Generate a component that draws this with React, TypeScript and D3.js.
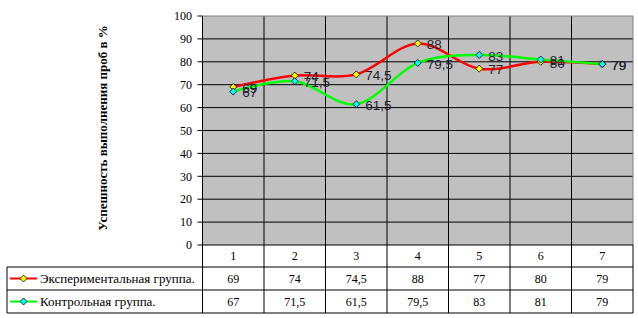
import React from "react";
import * as d3 from "d3";

const categories = ["1", "2", "3", "4", "5", "6", "7"];
const expValues = [69, 74, 74.5, 88, 77, 80, 79];
const ctrlValues = [67, 71.5, 61.5, 79.5, 83, 81, 79];
const yTicks = [0, 10, 20, 30, 40, 50, 60, 70, 80, 90, 100];
const seriesNames = ["Экспериментальная группа.", "Контрольная группа."];
const yTitle = "Успешность выполнения проб в %";

const W = 638;
const H = 318;
const left = 202.5;
const right = 633;
const top = 16;
const bottom = 245;
const row1 = 267;
const row2 = 290;
const row3 = 313;
const tableLeft = 7;

const fmt = (v: number) => String(v).replace(".", ",");

const serifStyle = { fontFamily: '"Liberation Serif", "Times New Roman", Tinos, "DejaVu Serif", serif' };
const sansStyle = { fontFamily: '"Liberation Sans", Arial, Arimo, sans-serif' };

export default function App() {
  const x = d3.scaleBand<string>().domain(categories).range([left, right]).padding(0);
  const y = d3.scaleLinear().domain([0, 100]).range([bottom, top]);
  const cx = (c: string) => (x(c) as number) + x.bandwidth() / 2;
  const line = d3
    .line<number>()
    .x((_, i) => cx(categories[i]))
    .y((d) => y(d))
    .curve(d3.curveCardinal.tension(0));

  const series = [
    { name: seriesNames[0], values: expValues, stroke: "#FF0000", fill: "#FFFF00" },
    { name: seriesNames[1], values: ctrlValues, stroke: "#00FF00", fill: "#00FFFF" },
  ];

  const diamond = (px: number, py: number, fill: string, key: string) => (
    <path
      key={key}
      d={`M${px},${py - 3.5}L${px + 3.5},${py}L${px},${py + 3.5}L${px - 3.5},${py}Z`}
      fill={fill}
      stroke="#000"
      strokeWidth={0.8}
    />
  );

  return (
    <svg width={W} height={H} style={{ position: "fixed", left: 0, top: 0, background: "#fff" }}>
      <rect x={left} y={top} width={right - left} height={bottom - top} fill="#C0C0C0" />
      {yTicks.map((t) =>
        t > 0 && t < 100 ? (
          <line key={"g" + t} x1={left} x2={right} y1={y(t)} y2={y(t)} stroke="#000" strokeWidth={1} />
        ) : null
      )}
      {categories.slice(1).map((c) => (
        <line
          key={"v" + c}
          x1={x(c) as number}
          x2={x(c) as number}
          y1={top}
          y2={row3}
          stroke="#000"
          strokeWidth={1}
        />
      ))}
      <line x1={left} x2={right} y1={top} y2={top} stroke="#808080" strokeWidth={1} />
      <line x1={right} x2={right} y1={top} y2={bottom} stroke="#808080" strokeWidth={1} />
      <line x1={right} x2={right} y1={bottom} y2={row3} stroke="#000" strokeWidth={1} />
      <line x1={left} x2={left} y1={top} y2={row3} stroke="#000" strokeWidth={1} />
      {yTicks.map((t) => (
        <g key={"t" + t}>
          <line x1={left - 5} x2={left} y1={y(t)} y2={y(t)} stroke="#000" />
          <text x={192} y={y(t)} dy="0.35em" textAnchor="end" fontSize={12} fill="#000" style={serifStyle}>
            {t}
          </text>
        </g>
      ))}
      <line x1={left} x2={right} y1={bottom} y2={bottom} stroke="#000" />
      <line x1={tableLeft} x2={right} y1={row1} y2={row1} stroke="#000" />
      <line x1={tableLeft} x2={right} y1={row2} y2={row2} stroke="#000" />
      <line x1={tableLeft} x2={right} y1={row3} y2={row3} stroke="#000" />
      <line x1={tableLeft} x2={tableLeft} y1={row1} y2={row3} stroke="#000" />
      {categories.map((c) => (
        <text
          key={"h" + c}
          x={cx(c)}
          y={(bottom + row1) / 2}
          dy="0.35em"
          textAnchor="middle"
          fontSize={12}
          style={serifStyle}
        >
          {c}
        </text>
      ))}
      {series.map((s, si) => {
        const ry0 = si === 0 ? row1 : row2;
        const ry1 = si === 0 ? row2 : row3;
        const my = (ry0 + ry1) / 2;
        return (
          <g key={"row" + si}>
            <line x1={10} x2={37} y1={my} y2={my} stroke={s.stroke} strokeWidth={2} />
            {diamond(23.5, my, s.fill, "lm" + si)}
            <text x={40} y={my} dy="0.35em" fontSize={13} style={serifStyle}>
              {s.name}
            </text>
            {s.values.map((v, i) => (
              <text
                key={i}
                x={cx(categories[i])}
                y={my}
                dy="0.35em"
                textAnchor="middle"
                fontSize={12}
                style={serifStyle}
              >
                {fmt(v)}
              </text>
            ))}
          </g>
        );
      })}
      {series.map((s, si) => (
        <path key={"l" + si} d={line(s.values) || ""} fill="none" stroke={s.stroke} strokeWidth={2.5} />
      ))}
      {series.map((s, si) =>
        s.values.map((v, i) => diamond(cx(categories[i]), y(v), s.fill, `m${si}-${i}`))
      )}
      {series.map((s, si) =>
        s.values.map((v, i) => (
          <text
            key={`lb${si}-${i}`}
            x={cx(categories[i]) + 9}
            y={y(v) + 1}
            dy="0.35em"
            fontSize={13.5}
            fill="#1f1f2f"
            style={sansStyle}
          >
            {fmt(v)}
          </text>
        ))
      )}
      <text
        transform={`translate(107, 128) rotate(-90)`}
        textAnchor="middle"
        fontSize={13}
        fontWeight="bold"
        style={serifStyle}
      >
        {yTitle}
      </text>
    </svg>
  );
}
